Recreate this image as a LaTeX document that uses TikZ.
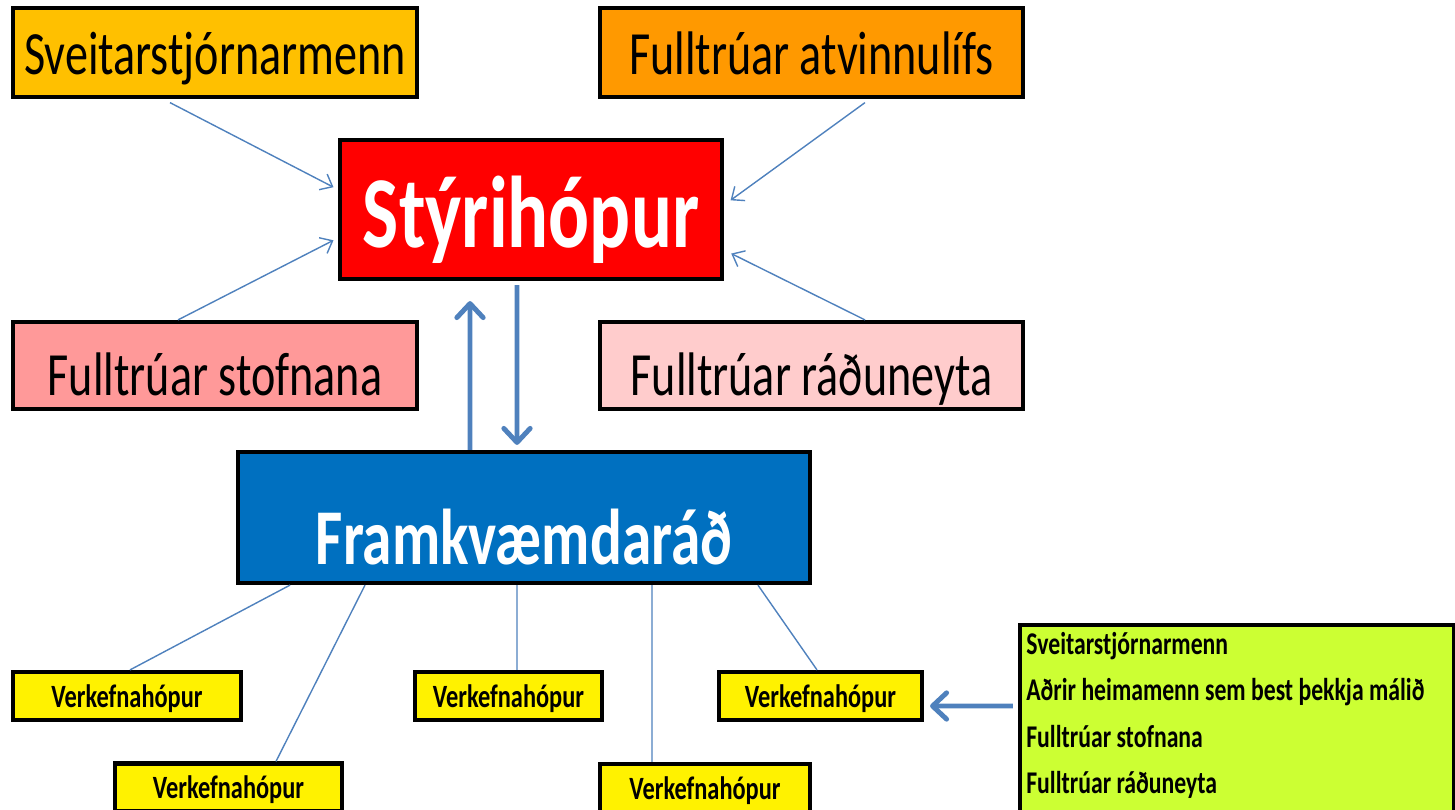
\documentclass[tikz,border=0pt]{standalone}
\usepackage{fontspec}
\newfontfamily\diagfont[FakeStretch=0.75]{Carlito}
\usetikzlibrary{arrows.meta}
\definecolor{linkblue}{HTML}{4F81BD}
\definecolor{gold}{HTML}{FFC000}
\definecolor{orangebox}{HTML}{FF9900}
\definecolor{rosebox}{HTML}{FF9999}
\definecolor{palerose}{HTML}{FFCCCC}
\definecolor{boardblue}{HTML}{0070C0}
\definecolor{limebox}{HTML}{CCFF33}
\begin{document}
\begin{tikzpicture}[x=0.02cm, y=-0.02cm,
		box/.style={draw=black, line width=2.4pt, inner sep=0pt, text depth=0pt, font=\diagfont},
		bigbox/.style={box, font=\diagfont\fontsize{35}{40}\selectfont},
		groupbox/.style={box, fill=yellow, minimum height=0.96cm, text height=13pt, font=\diagfont\bfseries\fontsize{18.5}{20}\selectfont},
		memberline/.style={anchor=base west, inner sep=0pt, font=\diagfont\bfseries\fontsize{18}{20}\selectfont},
		thinarrow/.style={draw=linkblue, line width=0.8pt, -{Straight Barb[length=6pt, width=10pt]}},
		fatarrow/.style={draw=linkblue, line width=2.8pt, -{Straight Barb[length=8pt, width=15pt, round]}},
		thinline/.style={draw=linkblue, line width=0.8pt}]
			\useasboundingbox (0,0) rectangle (1455,809);
			\clip (0,0) rectangle (1455,809);

			\node[bigbox, fill=gold, minimum width=8.08cm, minimum height=1.78cm, text height=25.6pt] at (215, 52.5) (sveit) {Sveitarstjórnarmenn};
			\node[bigbox, fill=orangebox, minimum width=8.46cm, minimum height=1.78cm, text height=25.6pt] at (811.5, 52.5) (atvinna) {Fulltrúar atvinnulífs};
			\node[box, fill=red, text=white, minimum width=7.64cm, minimum height=2.78cm, text height=42.7pt, font=\diagfont\bfseries\fontsize{58}{64}\selectfont] at (531, 209.5) (styri) {Stýrihópur};
			\node[bigbox, fill=rosebox, minimum width=8.08cm, minimum height=1.74cm, text height=34pt] at (215, 365.5) (stofn) {Fulltrúar stofnana};
			\node[bigbox, fill=palerose, minimum width=8.46cm, minimum height=1.74cm, text height=34pt] at (811.5, 365.5) (radun) {Fulltrúar ráðuneyta};
			\node[box, fill=boardblue, text=white, minimum width=11.44cm, minimum height=2.62cm, text height=54pt, font=\diagfont\bfseries\fontsize{45}{50}\selectfont] at (524, 517.5) (framkv) {Framkvæmdaráð};

			\node[groupbox, minimum width=4.56cm] at (127, 696) (verk1) {Verkefnahópur};
			\node[groupbox, minimum width=4.54cm] at (228.5, 787.5) (verk2) {Verkefnahópur};
			\node[groupbox, minimum width=3.74cm] at (508.5, 696) (verk3) {Verkefnahópur};
			\node[groupbox, minimum width=4.2cm] at (705, 788) (verk4) {Verkefnahópur};
			\node[groupbox, minimum width=4.06cm] at (820.5, 696) (verk5) {Verkefnahópur};

			% members of the task groups
			\node[box, fill=limebox, minimum width=8.68cm, minimum height=3.9cm] at (1237, 722.5) (heima) {};
			\node[memberline] at (1026, 654) (heima1) {Sveitarstjórnarmenn};
			\node[memberline] at (1026, 700) (heima2) {Aðrir heimamenn sem best þekkja málið};
			\node[memberline] at (1026, 747) (heima3) {Fulltrúar stofnana};
			\node[memberline] at (1026, 793) (heima4) {Fulltrúar ráðuneyta};

			\path
			([xshift=-0.9cm, yshift=-2pt]sveit.south) edge[thinarrow, shorten >=0.1cm] ([yshift=0.4cm]styri.west)
			([xshift=-0.74cm]stofn.north) edge[thinarrow, shorten >=0.1cm] ([yshift=-0.57cm]styri.west)
			([xshift=1.07cm, yshift=-2pt]atvinna.south) edge[thinarrow, shorten >=0.16cm] ([yshift=0.09cm]styri.east)
			([xshift=1.07cm]radun.north) edge[thinarrow, shorten >=0.16cm] ([yshift=-0.81cm]styri.east)
			([xshift=-1.08cm]framkv.north) edge[fatarrow, shorten >=0.4cm] ([xshift=-1.22cm]styri.south)
			([xshift=-0.28cm]styri.south) edge[fatarrow, shorten <=0.08cm, shorten >=0.1cm] ([xshift=-0.14cm]framkv.north)
			([yshift=0.33cm]heima.west) edge[fatarrow, shorten <=0.1cm, shorten >=0.12cm] ([yshift=-0.2cm]verk5.east);

			\path
			([xshift=-4.68cm]framkv.south) edge[thinline] ([xshift=0.06cm]verk1.north)
			([xshift=-3.18cm]framkv.south) edge[thinline] ([xshift=0.95cm]verk2.north)
			([xshift=-0.14cm]framkv.south) edge[thinline] ([xshift=0.17cm]verk3.north)
			([xshift=2.56cm]framkv.south) edge[thinline] ([xshift=-1.06cm]verk4.north)
			([xshift=4.68cm]framkv.south) edge[thinline] ([xshift=-0.07cm]verk5.north);
		\end{tikzpicture}
\end{document}
